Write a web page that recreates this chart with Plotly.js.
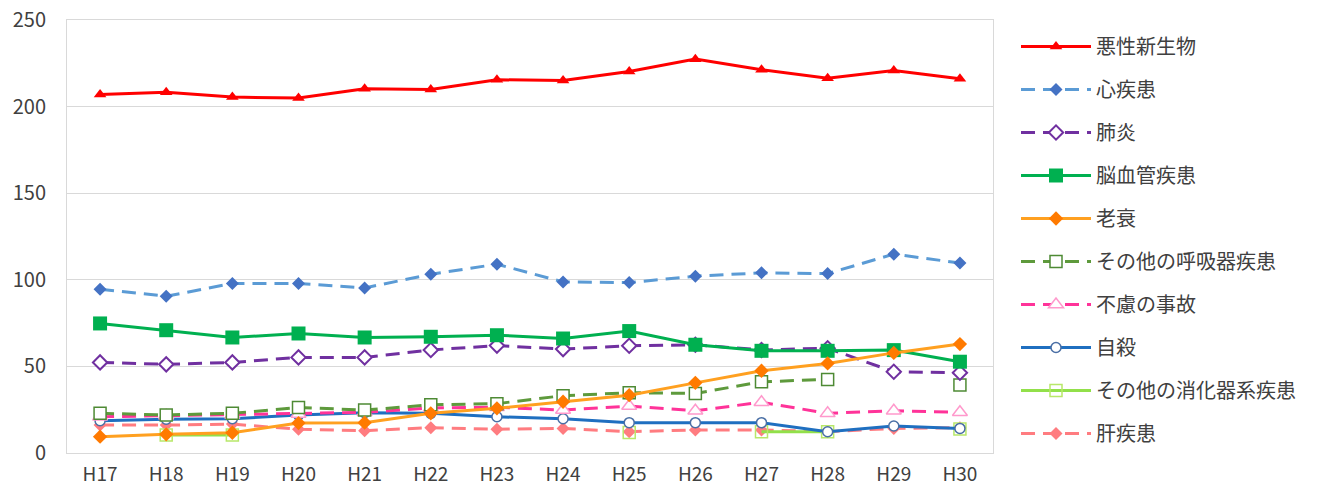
<!DOCTYPE html>
<html><head><meta charset="utf-8">
<script src="https://cdn.plot.ly/plotly-3.0.1.min.js"></script>
<style>html,body{margin:0;padding:0;background:#fff;}#chart{width:1318px;height:496px;}</style>
</head><body><div id="chart"></div>
<script>
const years = ['H17','H18','H19','H20','H21','H22','H23','H24','H25','H26','H27','H28','H29','H30'];
const names = ['悪性新生物','心疾患','肺炎','脳血管疾患','老衰','その他の呼吸器疾患','不慮の事故','自殺','その他の消化器系疾患','肝疾患'];
const cancer = [207.0, 208.3, 205.5, 204.9, 210.3, 209.9, 215.5, 215.1, 220.3, 227.4, 221.3, 216.4, 220.9, 216.1];
const heart = [94.6, 90.5, 97.9, 97.9, 95.3, 103.2, 109.0, 98.8, 98.4, 102.1, 104.0, 103.6, 114.8, 109.7];
const pneumonia = [52.3, 51.2, 52.3, 55.2, 55.2, 59.5, 62.0, 60.0, 61.9, 62.5, 59.5, 60.5, 46.9, 46.3];
const cerebro = [74.8, 70.9, 66.7, 69.0, 66.7, 67.1, 68.0, 66.1, 70.4, 62.5, 59.0, 59.0, 59.4, 52.7];
const senility = [9.4, 10.8, 11.7, 17.3, 17.5, 22.9, 25.8, 29.6, 33.4, 40.5, 47.5, 51.7, 57.8, 62.9];
const respiratory = [22.9, 22.0, 22.9, 26.3, 24.8, 27.8, 28.5, 33.1, 34.8, 34.4, 41.1, 42.5, null, 39.2];
const accident = [20.9, 21.5, 21.9, 22.5, 23.5, 26.0, 26.4, 24.8, 27.1, 24.4, 29.3, 22.9, 24.4, 23.5];
const suicide = [18.6, 19.5, 19.8, 21.9, 23.3, 22.9, 20.9, 19.8, 17.5, 17.5, 17.5, 12.3, 15.6, 14.2];
const digestive = [null, 10.4, 10.4, null, null, null, null, null, 11.8, null, 12.3, 12.3, null, 13.8];
const liver = [16.1, 16.1, 16.7, 13.7, 12.9, 14.6, 13.7, 14.2, 12.3, 13.3, 13.3, 12.3, 14.2, 14.6];

// drawing order, bottom to top; legend order follows legendrank
const DASH = '14px,8px';
const defs = [
  {y:liver, n:9, line:{color:'#FF7C80',width:3,dash:DASH}, marker:{symbol:'diamond',size:10,color:'#FF7C80'}},
  {y:digestive, n:8, line:{color:'#92E04A',width:3}, marker:{symbol:'square-open',size:12,color:'#B8E86A',line:{width:1.5}}},
  {y:suicide, n:7, line:{color:'#1F6FC0',width:3}, marker:{symbol:'circle',size:10,color:'#FFFFFF',line:{color:'#4A6FA5',width:1.5}}},
  {y:accident, n:6, line:{color:'#FF3399',width:3,dash:DASH}, marker:{symbol:'triangle-up',size:13,color:'#FFFFFF',line:{color:'#FF99CC',width:1.5}}},
  {y:respiratory, n:5, line:{color:'#5E9A3C',width:3,dash:DASH}, marker:{symbol:'square',size:12,color:'#FFFFFF',line:{color:'#4E8A34',width:1.5}}},
  {y:pneumonia, n:2, line:{color:'#7030A0',width:3,dash:DASH}, marker:{symbol:'diamond',size:11,color:'#FFFFFF',line:{color:'#7030A0',width:2}}},
  {y:cerebro, n:3, line:{color:'#00B050',width:3}, marker:{symbol:'square',size:14,color:'#00B050'}},
  {y:senility, n:4, line:{color:'#FFA020',width:3}, marker:{symbol:'diamond',size:11,color:'#FF7A00'}},
  {y:heart, n:1, line:{color:'#5B9BD5',width:3,dash:DASH}, marker:{symbol:'diamond',size:10,color:'#4472C4'}},
  {y:cancer, n:0, line:{color:'#FF0000',width:3}, marker:{symbol:'triangle-up',size:11,color:'#FF0000'}}
];
const traces = defs.map(d=>({
  type:'scatter', mode:'lines+markers', x:years, y:d.y, name:names[d.n],
  legendrank: d.n + 1, legendgroup:'g'+d.n, cliponaxis:false, line:d.line, marker:d.marker
}));

const layout = {
  width:1318, height:496,
  margin:{l:67, r:325, t:20, b:43},
  paper_bgcolor:'#ffffff', plot_bgcolor:'#ffffff',
  font:{family:'"Noto Sans CJK JP", "Noto Sans", sans-serif', size:20, color:'#404040'},
  showlegend:true,
  legend:{xref:'container', yref:'container', x:1016/1318, y:1-27/496, xanchor:'left', yanchor:'top',
    traceorder:'grouped', tracegroupgap:14, itemwidth:70, maxheight:490,
    font:{size:20, color:'#404040'}, bgcolor:'rgba(0,0,0,0)'},
  xaxis:{type:'category', range:[-0.5,13.5], showgrid:false, showline:true, mirror:true, linecolor:'#D9D9D9', linewidth:1,
    ticks:'', tickfont:{size:19, color:'#404040'}, ticklabelstandoff:4, fixedrange:true},
  yaxis:{range:[0,250], dtick:50, showgrid:true, gridcolor:'#D9D9D9', gridwidth:1, showline:true, mirror:true,
    linecolor:'#D9D9D9', zeroline:false, ticks:'', tickfont:{size:20, color:'#404040'}, ticklabelstandoff:16, fixedrange:true}
};
Plotly.newPlot('chart', traces, layout, {staticPlot:true});
</script></body></html>
